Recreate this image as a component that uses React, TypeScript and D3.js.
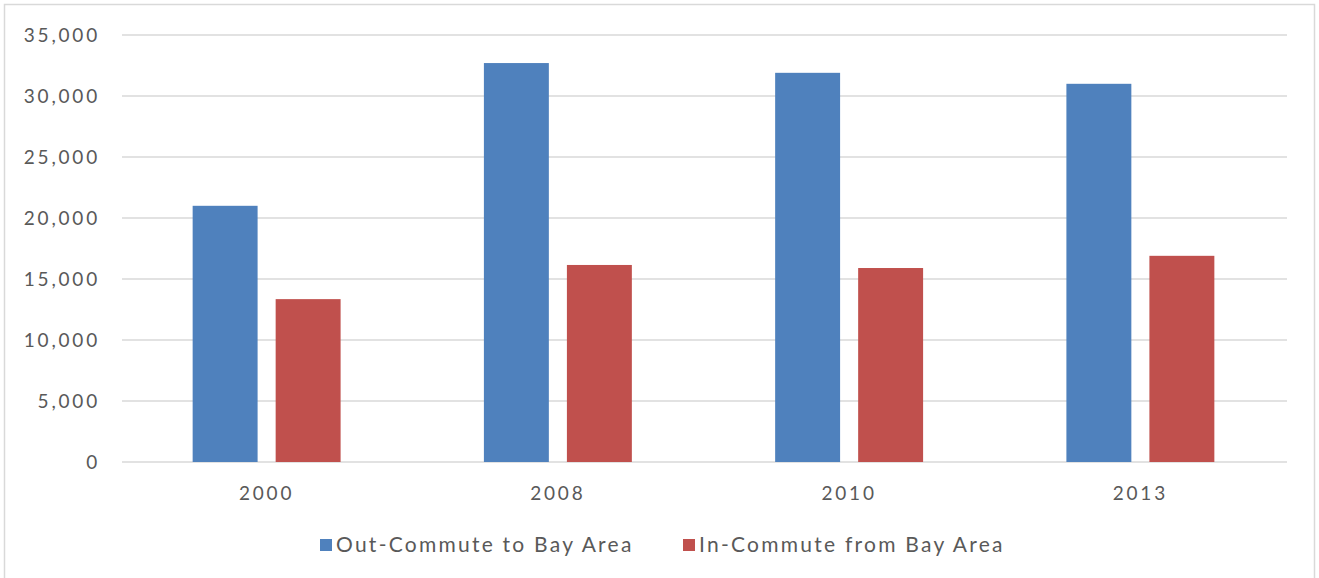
import React from "react";
import * as d3 from "d3";

const categories = ["2000", "2008", "2010", "2013"];
const seriesNames = ["Out-Commute to Bay Area", "In-Commute from Bay Area"];
const outCommute = [21000, 32700, 31900, 31000];
const inCommute = [13350, 16150, 15900, 16900];
const yTicks = [0, 5000, 10000, 15000, 20000, 25000, 30000, 35000];
const colors = ["#4F81BD", "#C0504D"];

const W = 1319;
const H = 578;
const FONT = "Lato, 'Open Sans', sans-serif";
const TEXT = "#595959";

export default function App() {
  const left = 122;
  const right = 1287;
  const x0 = d3.scaleBand<string>().domain(categories).range([left, right]).padding(0);
  const y = d3.scaleLinear().domain([0, 35000]).range([462, 35]);
  const bw = x0.bandwidth();
  const barW = bw * 0.223;
  const gap = bw * 0.062;
  const x1 = d3
    .scaleOrdinal<string, number>()
    .domain(seriesNames)
    .range([-(gap / 2 + barW), gap / 2]);
  const fmt = d3.format(",");
  const values = [outCommute, inCommute];

  return (
    <svg
      width={W}
      height={H}
      style={{ position: "absolute", left: 0, top: 0, background: "#fff" }}
    >
      <rect x={4.5} y={4.5} width={1310} height={H + 10} fill="#fff" stroke="#d9d9d9" strokeWidth={1.5} />
      {yTicks.map((t) => (
        <g key={t}>
          <line x1={left} x2={right} y1={y(t)} y2={y(t)} stroke="#d9d9d9" strokeWidth={1.5} />
          <text
            x={100}
            y={y(t)}
            dy="0.36em"
            textAnchor="end"
            fontFamily={FONT}
            fontSize={19}
            letterSpacing={2.8}
            fill={TEXT}
          >
            {fmt(t)}
          </text>
        </g>
      ))}
      {seriesNames.map((s, si) =>
        categories.map((c, ci) => {
          const cx = (x0(c) as number) + bw / 2 - 1;
          const v = values[si][ci];
          return (
            <rect
              key={s + c}
              x={cx + x1(s)}
              y={y(v)}
              width={barW}
              height={y(0) - y(v)}
              fill={colors[si]}
            />
          );
        })
      )}
      {categories.map((c) => (
        <text
          key={c}
          x={(x0(c) as number) + bw / 2 - 1}
          y={500}
          textAnchor="middle"
          fontFamily={FONT}
          fontSize={19}
          letterSpacing={2.8}
          fill={TEXT}
        >
          {c}
        </text>
      ))}
      {seriesNames.map((s, i) => {
        const lx = [320, 683][i];
        return (
          <g key={s}>
            <rect x={lx} y={539} width={12} height={12} fill={colors[i]} />
            <text
              x={lx + 16}
              y={552}
              fontFamily={FONT}
              fontSize={21}
              letterSpacing={2.25}
              fill={TEXT}
            >
              {s}
            </text>
          </g>
        );
      })}
    </svg>
  );
}
